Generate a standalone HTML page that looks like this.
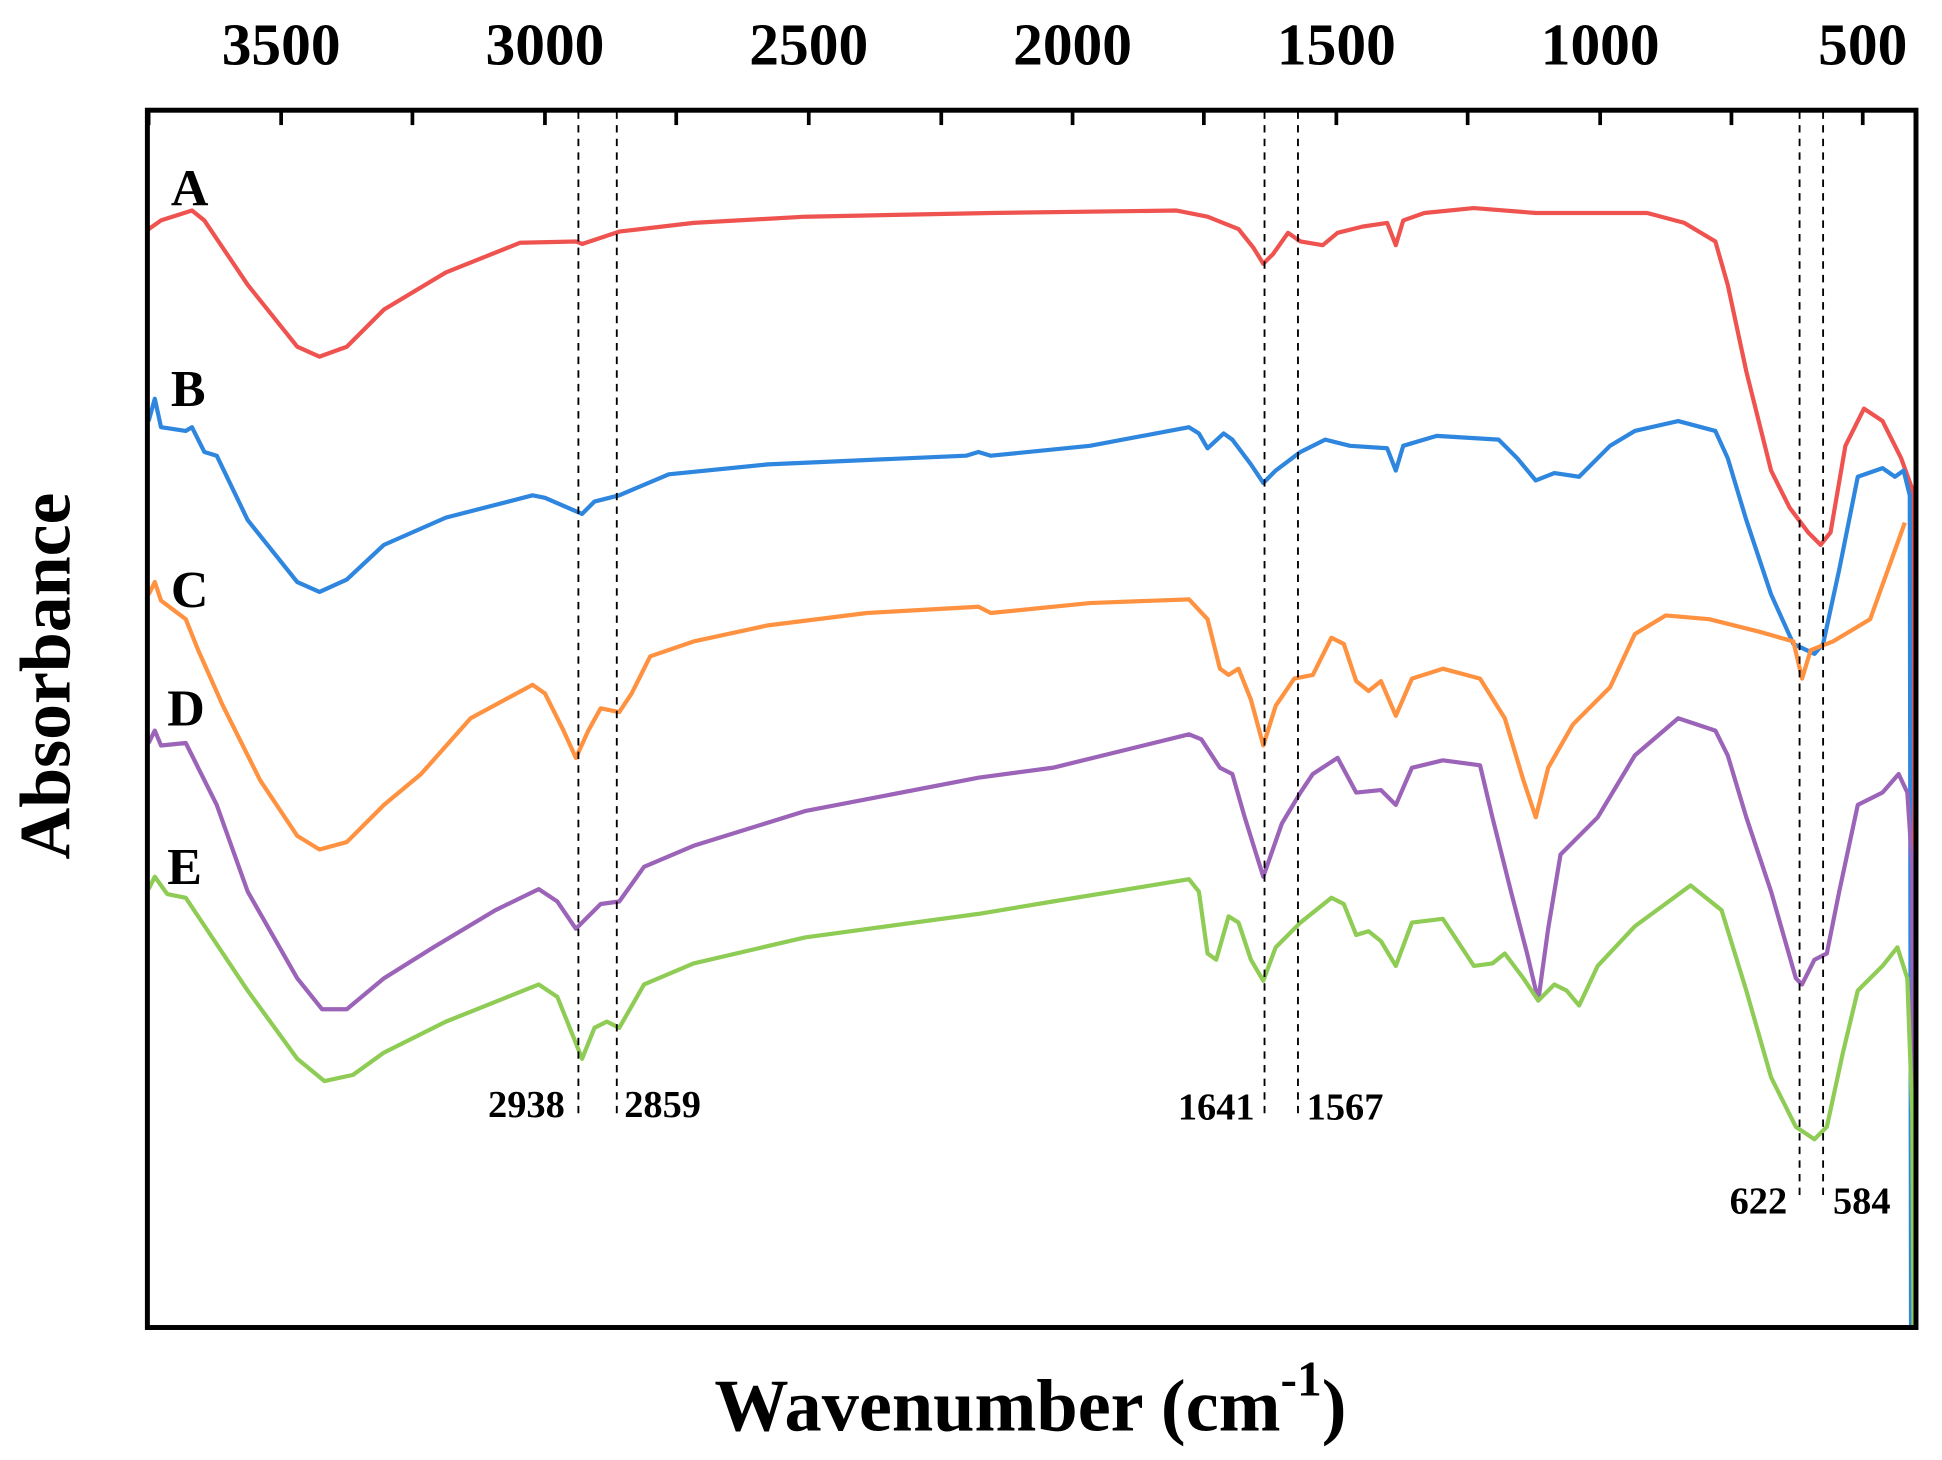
<!DOCTYPE html>
<html><head><meta charset="utf-8"><style>html,body{margin:0;padding:0;background:#fff}svg{display:block}</style></head>
<body>
<svg width="1942" height="1460" viewBox="0 0 1568 1179" preserveAspectRatio="none" xmlns="http://www.w3.org/2000/svg" font-family="Liberation Serif, serif" font-weight="bold">
<rect width="1568" height="1179" fill="#fff"/>
<g fill="none" stroke-width="3.4" stroke-linejoin="round">
<polyline stroke="#ef5350" points="120,185 130,178 155,170 165,178 200,230 240,280 258,288 280,280 310,250 360,220 420,196 465,195 470,197 500,187 560,180 650,175 800,172 950,170 975,175 1000,185 1012,200 1020,213 1028,205 1040,188 1050,195 1068,198 1080,188 1100,183 1120,180 1127,198 1133,178 1150,172 1190,168 1240,172 1330,172 1360,180 1385,195 1395,230 1410,300 1430,380 1445,410 1460,430 1470,440 1478,430 1490,360 1505,330 1520,340 1535,370 1544,395 1545,1072"/>
<polyline stroke="#2e86de" points="120,340 125,322 130,345 150,348 155,345 165,365 175,368 200,420 240,470 258,478 280,468 310,440 360,418 430,400 440,402 470,415 480,405 500,400 540,383 620,375 780,368 790,365 800,368 880,360 960,345 968,350 975,362 988,350 995,355 1010,375 1020,390 1030,380 1050,365 1070,355 1090,360 1120,362 1127,380 1133,360 1160,352 1210,355 1225,370 1240,388 1255,382 1275,385 1300,360 1320,348 1355,340 1385,348 1395,370 1410,420 1430,480 1448,520 1465,528 1472,520 1485,460 1500,385 1520,378 1530,385 1537,380 1542,400 1543,1072"/>
<polyline stroke="#ff9240" points="120,480 125,470 130,485 150,500 160,525 180,570 210,630 240,675 258,686 280,680 310,650 340,625 380,580 430,553 440,560 455,590 465,612 475,590 485,572 500,575 510,560 525,530 560,518 620,505 700,495 790,490 800,495 880,487 960,484 975,500 985,540 992,545 1000,540 1010,565 1020,602 1030,570 1045,548 1060,545 1075,515 1085,520 1095,550 1105,558 1115,550 1127,578 1140,548 1165,540 1195,548 1215,580 1230,630 1240,660 1250,620 1270,585 1300,555 1320,512 1345,497 1380,500 1420,510 1448,518 1455,548 1462,525 1480,518 1510,500 1538,422"/>
<polyline stroke="#9b64b8" points="120,600 125,590 130,602 150,600 160,620 175,650 200,720 240,790 260,815 280,815 310,790 350,765 400,735 435,718 450,728 465,750 475,740 485,730 500,728 520,700 560,683 650,655 790,628 850,620 960,593 970,597 985,620 995,625 1005,660 1020,708 1035,665 1050,640 1060,625 1080,612 1095,640 1115,638 1127,650 1140,620 1165,614 1195,618 1205,660 1220,720 1233,770 1242,808 1250,750 1260,690 1290,660 1320,610 1355,580 1385,590 1395,610 1410,660 1430,720 1450,790 1455,795 1465,775 1475,770 1485,720 1500,650 1520,640 1533,625 1540,640 1544,700 1545,1072"/>
<polyline stroke="#8fcc55" points="120,718 125,708 135,722 150,725 160,740 200,800 240,855 262,873 285,868 310,850 360,825 435,795 450,805 460,830 470,855 480,830 490,825 500,830 520,795 560,778 650,757 790,738 850,728 960,710 968,720 975,770 982,775 992,740 1000,745 1010,775 1020,792 1030,765 1050,745 1075,725 1085,730 1095,755 1105,752 1115,760 1127,780 1140,745 1165,742 1190,780 1205,778 1215,770 1230,790 1242,808 1255,795 1265,800 1275,812 1290,780 1320,748 1365,715 1390,735 1410,800 1430,870 1450,910 1465,920 1475,910 1488,850 1500,800 1520,780 1532,765 1540,790 1544,900 1545,1072"/>
</g>
<g stroke="#000" stroke-width="1.5" stroke-dasharray="6,5">
<line x1="467" y1="90" x2="467" y2="900"/><line x1="498" y1="90" x2="498" y2="900"/>
<line x1="1021" y1="90" x2="1021" y2="900"/><line x1="1048" y1="90" x2="1048" y2="900"/>
<line x1="1453" y1="90" x2="1453" y2="965"/><line x1="1472" y1="90" x2="1472" y2="965"/>
</g>
<rect x="119" y="89" width="1428" height="983" fill="none" stroke="#000" stroke-width="4"/>
<g stroke="#000" stroke-width="3">
<line x1="120" y1="89" x2="120" y2="101"/><line x1="227" y1="89" x2="227" y2="101"/><line x1="333" y1="89" x2="333" y2="101"/><line x1="440" y1="89" x2="440" y2="101"/><line x1="546" y1="89" x2="546" y2="101"/><line x1="653" y1="89" x2="653" y2="101"/><line x1="760" y1="89" x2="760" y2="101"/><line x1="866" y1="89" x2="866" y2="101"/><line x1="972" y1="89" x2="972" y2="101"/><line x1="1079" y1="89" x2="1079" y2="101"/><line x1="1185" y1="89" x2="1185" y2="101"/><line x1="1292" y1="89" x2="1292" y2="101"/><line x1="1398" y1="89" x2="1398" y2="101"/><line x1="1504" y1="89" x2="1504" y2="101"/>
</g>
<g font-size="48" text-anchor="middle" fill="#000">
<text x="227" y="52">3500</text><text x="440" y="52">3000</text><text x="653" y="52">2500</text><text x="866" y="52">2000</text><text x="1079" y="52">1500</text><text x="1292" y="52">1000</text><text x="1504" y="52">500</text>
</g>
<g font-size="42" fill="#000">
<text x="138" y="166">A</text><text x="138" y="328">B</text><text x="138" y="490">C</text><text x="135" y="586">D</text><text x="135" y="714">E</text>
</g>
<g font-size="31" fill="#000">
<text x="456" y="902" text-anchor="end">2938</text><text x="504" y="902">2859</text>
<text x="1013" y="904" text-anchor="end">1641</text><text x="1055" y="904">1567</text>
<text x="1443" y="980" text-anchor="end">622</text><text x="1480" y="980">584</text>
</g>
<text transform="translate(56,546) rotate(-90)" font-size="58" text-anchor="middle" fill="#000">Absorbance</text>
<text x="832" y="1155" font-size="60" text-anchor="middle" fill="#000">Wavenumber (cm<tspan font-size="40" dy="-28">-1</tspan><tspan dy="28">)</tspan></text>
</svg>
</body></html>
